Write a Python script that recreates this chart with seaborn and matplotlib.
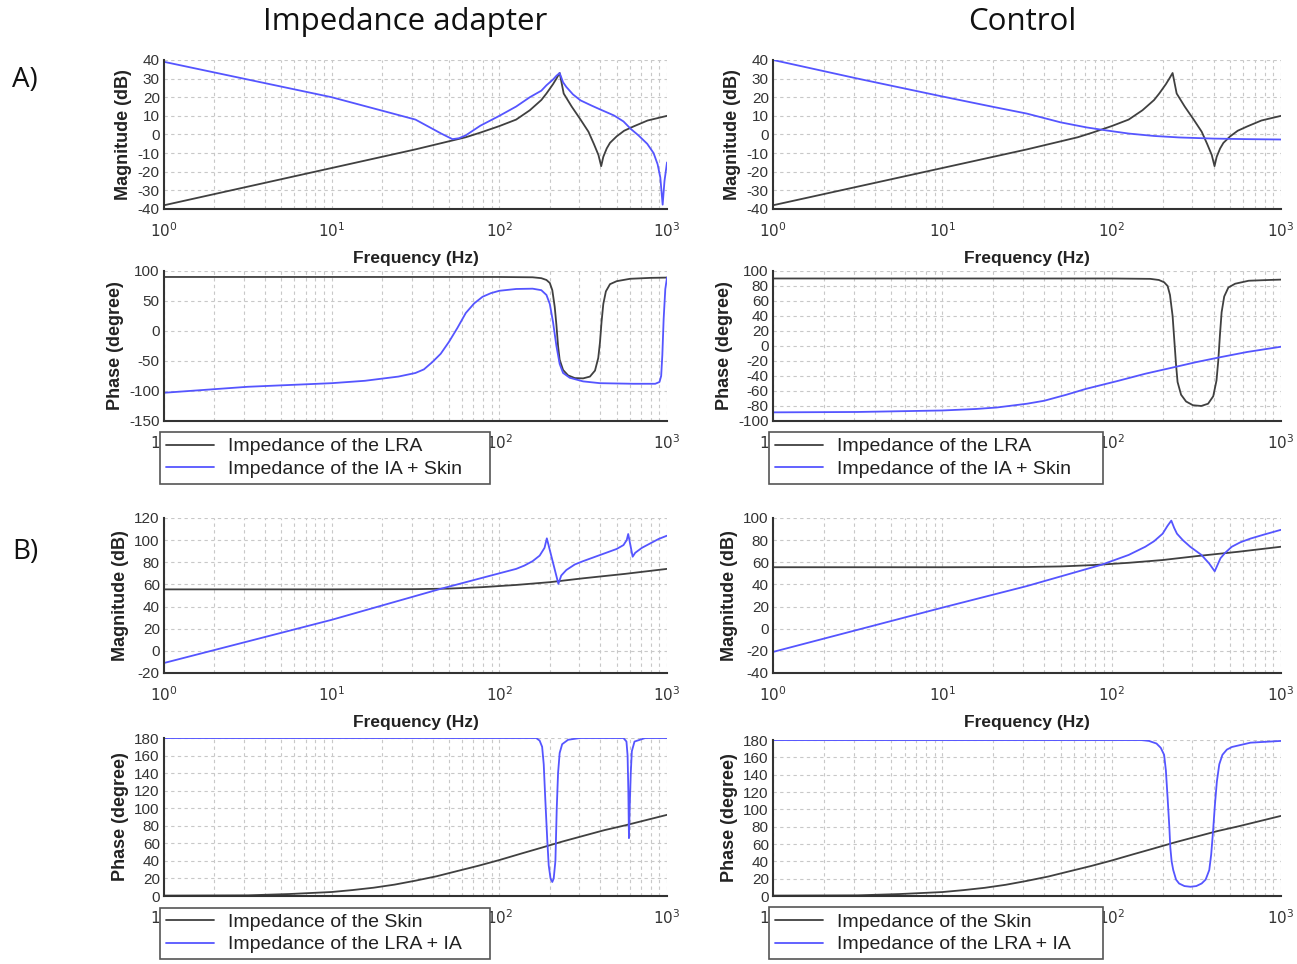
import matplotlib
matplotlib.use('Agg')
import matplotlib.pyplot as plt
import seaborn as sns
from matplotlib.ticker import FixedLocator, LogLocator, MultipleLocator, NullFormatter

# ---- A) magnitude / phase, LRA (same curve in both columns)
lra_mag_f = [1, 10, 31.6, 63, 77, 100, 126, 152, 178, 191, 209, 219, 229, 242, 270, 305, 340, 366, 390, 405,
             417, 437, 457, 501, 555, 631, 766, 1000]
lra_mag_db = [-38, -18, -8, -1.5, 1, 4.5, 8, 13, 18.5, 22, 27, 30, 33, 22, 15, 8, 1.5, -5, -11, -17,
              -12, -7.5, -4.5, -1, 2, 4.3, 7.5, 10]

lra_ph_f = [1, 100, 158, 178, 191, 200, 207, 214, 219, 224, 229, 240, 257, 282, 316, 347, 372, 389, 398, 407,
            417, 432, 457, 501, 603, 794, 1000]
lra_ph_deg = [90, 90, 89.5, 88, 85, 80, 68, 40, 10, -25, -48, -65, -74, -78.5, -79, -76, -66, -45, -20, 15,
              45, 66, 78, 83, 87, 88.5, 89]

# LRA phase as drawn in the control column (transitions read slightly later)
lra_ph_ctl_f = [1, 100, 169, 190, 204, 214, 221, 229, 234, 240, 245, 257, 275, 302, 338, 371, 398, 416, 426, 436,
                446, 462, 489, 536, 645, 850, 1000]
lra_ph_ctl_deg = [90, 90, 89.5, 88, 85, 80, 68, 40, 10, -25, -48, -65, -74, -79, -80, -77, -67, -46, -20, 15,
                  45, 66, 78, 83, 87, 88, 88.5]

# IA + Skin, impedance adapter
ias_mag_f = [1, 3.16, 10, 31.6, 45, 52.5, 57.5, 63, 77, 100, 126, 152, 178, 191, 209, 219, 229, 240, 251, 275,
             305, 355, 398, 483, 550, 608, 676, 762, 832, 879, 912, 942, 966, 1000]
ias_mag_db = [39, 29.5, 20, 8, 0.5, -2.5, -2, -0.5, 4.7, 10, 15, 20, 23.5, 26.4, 29.5, 31.5, 33, 28, 25.5, 21.5,
              18.3, 15.5, 13.5, 10.2, 7, 3, -0.5, -5, -10, -16, -23, -37.7, -25, -15]

ias_ph_f = [1, 3.16, 10, 15.8, 25, 31.6, 35.5, 39.8, 44.7, 50.1, 56.2, 63.1, 70.8, 79.4, 89, 100, 126, 158, 178,
            191, 200, 209, 219, 229, 240, 263, 316, 398, 631, 851, 902, 923, 938, 955, 977, 1000]
ias_ph_deg = [-103, -93, -87, -83, -76, -70, -64, -52, -38, -18, 5, 30, 46, 57, 63, 67, 70, 70.5, 68,
              60, 45, 15, -25, -55, -70, -78, -84, -87, -88, -88, -85, -75, -40, 20, 70, 89]

# IA + Skin, control
ctl_mag_f = [1, 3.16, 10, 20, 31.6, 50, 71, 91, 126, 178, 251, 398, 631, 1000]
ctl_mag_db = [40, 30, 20.4, 14.8, 11.2, 6.5, 3.8, 2.3, 0.5, -0.8, -1.6, -2.2, -2.5, -2.7]

ctl_ph_f = [1, 3.16, 10, 15.8, 21, 31.6, 40, 54, 71, 107, 158, 237, 316, 437, 631, 1000]
ctl_ph_deg = [-88.5, -88, -86, -84, -82, -77, -73, -65, -57, -47, -37, -28, -21.5, -15, -8, -1]

# ---- B) Skin (same curve in both columns)
skin_mag_f = [1, 10, 31.6, 50, 79, 126, 200, 316, 562, 1000]
skin_mag_db = [55.5, 55.5, 55.7, 56.2, 57.5, 59.5, 62, 65.5, 69.5, 74]

skin_ph_f = [1, 3.16, 5.6, 10, 13.3, 17.8, 23.7, 31.6, 42.2, 56.2, 75, 100, 133, 178, 237, 316, 422, 562, 750, 1000]
skin_ph_deg = [0.5, 0.8, 2.3, 4.6, 6.8, 9.5, 13, 17.5, 22.5, 28.5, 34.5, 41, 48, 55, 62, 68.5, 75, 80.5, 86.5, 92.5]

# LRA + IA, impedance adapter
lia_mag_f = [1, 10, 44.7, 100, 126, 141, 158, 174, 186, 192, 225, 234, 251, 282, 316, 398, 501, 550, 575, 587,
             624, 646, 708, 794, 891, 1000]
lia_mag_db = [-11, 28, 56, 70, 74, 77, 81, 86, 93, 101.6, 60.5, 68, 73, 78, 81, 86.5, 92, 95.5, 100, 105.5,
              85, 88.5, 93, 97, 101, 104]

lia_ph_f = [1, 166, 174, 180, 184, 188, 193, 197, 202, 207, 211, 216, 220, 224, 229, 237, 257, 302,
            550, 573, 582, 588, 593, 599, 608, 617, 640, 741, 1000]
lia_ph_deg = [180, 180, 177, 170, 150, 110, 65, 35, 20, 16, 20, 40, 100, 140, 163, 173, 178, 180,
              180, 176, 160, 120, 66, 100, 140, 165, 176, 180, 180]

# LRA + IA, control
lic_mag_f = [1, 10, 31.6, 87, 126, 158, 178, 200, 214, 225, 234, 243, 263, 291, 339, 376, 406, 439, 468, 512,
             575, 661, 794, 1000]
lic_mag_db = [-21, 19, 38.5, 57.7, 66.6, 74, 79, 85.8, 93, 97.6, 91, 85.8, 80, 74, 66.6, 59, 51.8, 63.6, 68.5, 74,
              78, 81.4, 85, 89.3]

lic_ph_f = [1, 150, 166, 184, 195, 204, 209, 214, 219, 222, 226, 231, 240, 250, 269, 292, 316, 340, 359, 377,
            387, 397, 407, 418, 432, 451, 479, 513, 661, 1000]
lic_ph_deg = [180, 180, 179, 176, 171, 163, 145, 113, 80, 56, 40, 30, 19, 14.5, 11.5, 10.7, 11.5, 14.5, 19, 30,
              48, 75, 105, 132, 152, 163, 169, 172, 177, 179]

sns.set_style('white')
plt.rcParams['font.family'] = ['Liberation Sans', 'DejaVu Sans']
plt.rcParams['axes.unicode_minus'] = False

DARK = '#404040'
BLUE = '#5555ff'
TXT = '#222222'

fig = plt.figure(figsize=(12.97, 9.64), dpi=100)


def panel(rect, curves, ylim, ystep, yminor, ylabel, xlabel=None, legend_w=None):
    ax = fig.add_axes(rect)
    for f, v, c, lab in curves:
        sns.lineplot(x=f, y=v, color=c, linewidth=1.3, ax=ax, estimator=None, sort=False, label=lab)
    ax.set_xscale('log')
    ax.set_xlim(1, 1000)
    ax.set_ylim(ylim)
    ax.xaxis.set_major_locator(FixedLocator([1, 10, 100, 1000]))
    ax.set_xticklabels([r'$10^{0}$', r'$10^{1}$', r'$10^{2}$', r'$10^{3}$'])
    ax.xaxis.set_minor_locator(LogLocator(base=10, subs=range(2, 10)))
    ax.xaxis.set_minor_formatter(NullFormatter())
    ax.yaxis.set_major_locator(MultipleLocator(ystep))
    ax.yaxis.set_minor_locator(MultipleLocator(yminor))
    ax.tick_params(which='major', direction='in', length=4, width=1, colors='#333333', labelsize=11, pad=3)
    ax.tick_params(which='minor', direction='in', length=2.5, width=0.8, colors='#333333')
    ax.tick_params(axis='x', which='major', pad=9)
    ax.grid(True, which='major', ls=(0, (3, 3)), color='#c8c8c8', lw=0.8)
    ax.grid(True, which='minor', axis='x', ls=(0, (3, 3)), color='#c8c8c8', lw=0.8)
    for s in ['top', 'right']:
        ax.spines[s].set_visible(False)
    for s in ['left', 'bottom']:
        ax.spines[s].set_color('#333333')
        ax.spines[s].set_linewidth(1.5)
    ax.set_ylabel(ylabel, fontsize=13, fontweight='bold', color=TXT, labelpad=4)
    if xlabel:
        ax.set_xlabel(xlabel, fontsize=12.5, fontweight='bold', color=TXT, labelpad=8)
    else:
        ax.set_xlabel('')
    if legend_w:
        leg = ax.legend(loc='upper left', bbox_to_anchor=(-0.008, -0.073, legend_w, 0), mode='expand',
                        frameon=True, fancybox=False, edgecolor='#555555', framealpha=1, fontsize=14,
                        handlelength=2.5, borderpad=0.3, labelspacing=0.25, handletextpad=0.7, borderaxespad=0)
        leg.get_frame().set_linewidth(1.2)
        for t in leg.get_texts():
            t.set_color(TXT)
    else:
        if ax.get_legend():
            ax.get_legend().remove()
    return ax


LX, LW = 164 / 1297, 503 / 1297
RX, RW = 773 / 1297, 508 / 1297

# A) magnitude
panel([LX, 0.7832, LW, 0.1546],
      [(lra_mag_f, lra_mag_db, DARK, None), (ias_mag_f, ias_mag_db, BLUE, None)],
      (-40, 40), 10, 5, 'Magnitude (dB)', 'Frequency (Hz)')
panel([RX, 0.7832, RW, 0.1546],
      [(lra_mag_f, lra_mag_db, DARK, None), (ctl_mag_f, ctl_mag_db, BLUE, None)],
      (-40, 40), 10, 5, 'Magnitude (dB)', 'Frequency (Hz)')

# A) phase
panel([LX, 0.5633, LW, 0.1556],
      [(lra_ph_f, lra_ph_deg, DARK, 'Impedance of the LRA'), (ias_ph_f, ias_ph_deg, BLUE, 'Impedance of the IA + Skin')],
      (-150, 100), 50, 10, 'Phase (degree)', legend_w=0.656)
panel([RX, 0.5633, RW, 0.1556],
      [(lra_ph_ctl_f, lra_ph_ctl_deg, DARK, 'Impedance of the LRA'), (ctl_ph_f, ctl_ph_deg, BLUE, 'Impedance of the IA + Skin')],
      (-100, 100), 20, 10, 'Phase (degree)', legend_w=0.657)

# B) magnitude
panel([LX, 0.3019, LW, 0.1608],
      [(skin_mag_f, skin_mag_db, DARK, None), (lia_mag_f, lia_mag_db, BLUE, None)],
      (-20, 120), 20, 10, 'Magnitude (dB)', 'Frequency (Hz)')
panel([RX, 0.3019, RW, 0.1608],
      [(skin_mag_f, skin_mag_db, DARK, None), (lic_mag_f, lic_mag_db, BLUE, None)],
      (-40, 100), 20, 10, 'Magnitude (dB)', 'Frequency (Hz)')

# B) phase
panel([LX, 0.0705, LW, 0.1639],
      [(skin_ph_f, skin_ph_deg, DARK, 'Impedance of the Skin'), (lia_ph_f, lia_ph_deg, BLUE, 'Impedance of the LRA + IA')],
      (0, 180), 20, 10, 'Phase (degree)', legend_w=0.656)
panel([RX, 0.0705, RW, 0.1618],
      [(skin_ph_f, skin_ph_deg, DARK, 'Impedance of the Skin'), (lic_ph_f, lic_ph_deg, BLUE, 'Impedance of the LRA + IA')],
      (0, 180), 20, 10, 'Phase (degree)', legend_w=0.657)

title_font = ['Open Sans', 'DejaVu Sans']
fig.text(405 / 1297, 1 - 22 / 964, 'Impedance adapter', fontsize=22.5, ha='center', va='center',
         family=title_font, color='#111111')
fig.text(1022 / 1297, 1 - 22 / 964, 'Control', fontsize=22.5, ha='center', va='center',
         family=title_font, color='#111111')
fig.text(25 / 1297, 1 - 80 / 964, 'A)', fontsize=20, ha='center', va='center',
         family=title_font, color='#111111')
fig.text(25 / 1297, 1 - 552 / 964, 'B)', fontsize=20, ha='center', va='center',
         family=title_font, color='#111111')

fig.savefig('out.png', dpi=100)
